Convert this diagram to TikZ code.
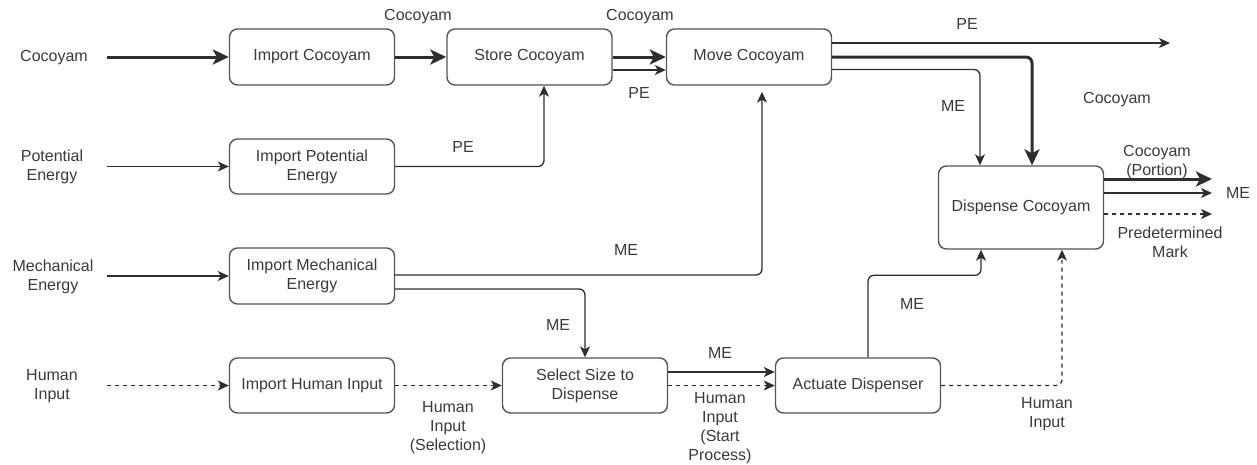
\documentclass[tikz,border=0pt]{standalone}
\usepackage{fontspec}
\setmainfont{Liberation Sans}
\usetikzlibrary{arrows.meta,calc}
\definecolor{linec}{HTML}{2E2E2E}
\definecolor{boxc}{HTML}{555555}
\definecolor{txt}{HTML}{3A3A3A}
\begin{document}
\begin{tikzpicture}[x=1pt,y=-1pt,
  every node/.style={font=\fontsize{16}{19}\selectfont, text=txt, inner sep=0pt, align=center},
  fbox/.style={draw=boxc, line width=1.4pt, rounded corners=8pt, minimum width=165pt, minimum height=56pt},
  flow/.style={draw=linec, line width=1.3pt, rounded corners=6pt, -{Stealth[length=11pt,width=10pt,inset=3pt]}},
  thickflow/.style={flow, line width=3pt, -{Stealth[length=16pt,width=15pt,inset=4pt]}},
  sigflow/.style={flow, dash pattern=on 4pt off 4pt}
]
\useasboundingbox (0,0) rectangle (1257,464);

% left labels
\node (lcoco) at (54,58) {Cocoyam};
\node (lpe) at (52,167) {Potential\\Energy};
\node (lme) at (53,277) {Mechanical\\Energy};
\node (lhi) at (52,386) {Human\\Input};

% boxes
\node[fbox] (ic) at (312,57) {Import Cocoyam};
\node[fbox] (sc) at (529.5,57) {Store Cocoyam};
\node[fbox] (mc) at (749,57) {Move Cocoyam};
\node[fbox, minimum height=55pt] (ipe) at (312,166.5) {Import Potential\\Energy};
\node[fbox] (ime) at (312,276) {Import Mechanical\\Energy};
\node[fbox, minimum height=55pt] (ihi) at (312,385.5) {Import Human Input};
\node[fbox, minimum height=55pt] (ss) at (585,385.5) {Select Size to\\Dispense};
\node[fbox, minimum height=55pt] (ad) at (858,385.5) {Actuate Dispenser};
\node[fbox, minimum height=83pt] (dc) at (1021,207.5) {Dispense Cocoyam};

% free ends
\coordinate (peout) at (1170,43);
\coordinate (coout) at (1212,179);
\coordinate (meout) at (1212,193);
\coordinate (pmout) at (1212,214);

% inputs
\draw[thickflow] ($(lcoco.center)+(53,-1)$) -- (ic.west);
\draw[flow] ($(lpe.center)+(55,-0.5)$) -- (ipe.west);
\draw[flow] ($(lme.center)+(54,-1)$) -- (ime.west);
\draw[sigflow] ($(lhi.center)+(55,-0.5)$) -- (ihi.west);

% top row
\draw[thickflow] (ic.east) -- (sc.west);
\draw[thickflow] (sc.east) -- (mc.west);
\draw[flow] (sc.east |- 0,70) -- (mc.west |- 0,70);
\draw[flow] (ipe.east) -| ([xshift=14.5pt]sc.south);

% move cocoyam outputs
\draw[flow] (mc.east |- 0,43) -- (peout);
\draw[thickflow] (mc.east) -| ([xshift=11pt]dc.north);
\draw[flow] (mc.east |- 0,69.5) -| ([xshift=-41pt]dc.north);

% mechanical energy
\draw[flow, shorten >=6pt] (ime.east |- 0,275) -| ([xshift=13pt]mc.south);
\draw[flow] (ime.east |- 0,289) -| (ss.north);

% human input chain
\draw[sigflow] (ihi.east) -- (ss.west);
\draw[flow] (ss.east |- 0,372) -- (ad.west |- 0,372);
\draw[sigflow] (ss.east) -- (ad.west);
\draw[flow] ([xshift=10pt]ad.north) -- ++(0,-82) -| ([xshift=-40pt]dc.south);
\draw[sigflow] (ad.east) -| ([xshift=41pt]dc.south);

% dispense outputs
\draw[thickflow] (dc.east |- 0,179) -- (coout);
\draw[flow] (dc.east |- 0,193) -- (meout);
\draw[sigflow] (dc.east |- 0,214) -- (pmout);

% connector labels
\node (t1) at (418,17) {Cocoyam};
\node (t2) at (640,17) {Cocoyam};
\node (t3) at (639,93) {PE};
\node (t4) at (463,147) {PE};
\node (t5) at (967,24) {PE};
\node (t6) at (953,106) {ME};
\node (t7) at (1117,100) {Cocoyam};
\node (t8) at (626,250) {ME};
\node (t9) at (558,325) {ME};
\node (t10) at (448,428) {Human\\Input\\(Selection)};
\node (t11) at (720,353) {ME};
\node (t12) at (720,428) {Human\\Input\\(Start\\Process)};
\node (t13) at (912,304) {ME};
\node (t14) at (1047,414) {Human\\Input};
\node (t15) at (1157,162) {Cocoyam\\(Portion)};
\node (t16) at (1238,193) {ME};
\node (t17) at (1170,242) {Predetermined\\Mark};
\end{tikzpicture}
\end{document}
